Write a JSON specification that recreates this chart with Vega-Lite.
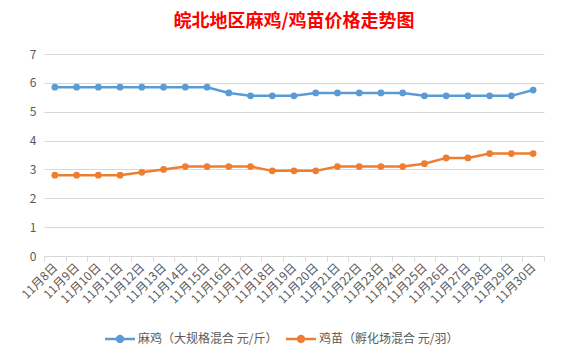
{
  "$schema": "https://vega.github.io/schema/vega-lite/v6.json",
  "width": 500,
  "height": 202,
  "autosize": {"type": "none"},
  "padding": {"left": 44, "top": 54, "right": 18, "bottom": 104},
  "background": "white",
  "title": {"text": "皖北地区麻鸡/鸡苗价格走势图", "color": "#FF0000", "fontSize": 18, "fontWeight": "bold", "font": "Noto Sans CJK SC", "anchor": "middle", "frame": "group", "offset": 17},
  "config": {"view": {"stroke": null}, "font": "Noto Sans CJK SC"},
  "data": {"values": [
    {"d": "11月8日", "s": "麻鸡（大规格混合 元/斤）", "v": 5.85},
    {"d": "11月9日", "s": "麻鸡（大规格混合 元/斤）", "v": 5.85},
    {"d": "11月10日", "s": "麻鸡（大规格混合 元/斤）", "v": 5.85},
    {"d": "11月11日", "s": "麻鸡（大规格混合 元/斤）", "v": 5.85},
    {"d": "11月12日", "s": "麻鸡（大规格混合 元/斤）", "v": 5.85},
    {"d": "11月13日", "s": "麻鸡（大规格混合 元/斤）", "v": 5.85},
    {"d": "11月14日", "s": "麻鸡（大规格混合 元/斤）", "v": 5.85},
    {"d": "11月15日", "s": "麻鸡（大规格混合 元/斤）", "v": 5.85},
    {"d": "11月16日", "s": "麻鸡（大规格混合 元/斤）", "v": 5.65},
    {"d": "11月17日", "s": "麻鸡（大规格混合 元/斤）", "v": 5.55},
    {"d": "11月18日", "s": "麻鸡（大规格混合 元/斤）", "v": 5.55},
    {"d": "11月19日", "s": "麻鸡（大规格混合 元/斤）", "v": 5.55},
    {"d": "11月20日", "s": "麻鸡（大规格混合 元/斤）", "v": 5.65},
    {"d": "11月21日", "s": "麻鸡（大规格混合 元/斤）", "v": 5.65},
    {"d": "11月22日", "s": "麻鸡（大规格混合 元/斤）", "v": 5.65},
    {"d": "11月23日", "s": "麻鸡（大规格混合 元/斤）", "v": 5.65},
    {"d": "11月24日", "s": "麻鸡（大规格混合 元/斤）", "v": 5.65},
    {"d": "11月25日", "s": "麻鸡（大规格混合 元/斤）", "v": 5.55},
    {"d": "11月26日", "s": "麻鸡（大规格混合 元/斤）", "v": 5.55},
    {"d": "11月27日", "s": "麻鸡（大规格混合 元/斤）", "v": 5.55},
    {"d": "11月28日", "s": "麻鸡（大规格混合 元/斤）", "v": 5.55},
    {"d": "11月29日", "s": "麻鸡（大规格混合 元/斤）", "v": 5.55},
    {"d": "11月30日", "s": "麻鸡（大规格混合 元/斤）", "v": 5.75},
    {"d": "11月8日", "s": "鸡苗（孵化场混合 元/羽）", "v": 2.8},
    {"d": "11月9日", "s": "鸡苗（孵化场混合 元/羽）", "v": 2.8},
    {"d": "11月10日", "s": "鸡苗（孵化场混合 元/羽）", "v": 2.8},
    {"d": "11月11日", "s": "鸡苗（孵化场混合 元/羽）", "v": 2.8},
    {"d": "11月12日", "s": "鸡苗（孵化场混合 元/羽）", "v": 2.9},
    {"d": "11月13日", "s": "鸡苗（孵化场混合 元/羽）", "v": 3.0},
    {"d": "11月14日", "s": "鸡苗（孵化场混合 元/羽）", "v": 3.1},
    {"d": "11月15日", "s": "鸡苗（孵化场混合 元/羽）", "v": 3.1},
    {"d": "11月16日", "s": "鸡苗（孵化场混合 元/羽）", "v": 3.1},
    {"d": "11月17日", "s": "鸡苗（孵化场混合 元/羽）", "v": 3.1},
    {"d": "11月18日", "s": "鸡苗（孵化场混合 元/羽）", "v": 2.95},
    {"d": "11月19日", "s": "鸡苗（孵化场混合 元/羽）", "v": 2.95},
    {"d": "11月20日", "s": "鸡苗（孵化场混合 元/羽）", "v": 2.95},
    {"d": "11月21日", "s": "鸡苗（孵化场混合 元/羽）", "v": 3.1},
    {"d": "11月22日", "s": "鸡苗（孵化场混合 元/羽）", "v": 3.1},
    {"d": "11月23日", "s": "鸡苗（孵化场混合 元/羽）", "v": 3.1},
    {"d": "11月24日", "s": "鸡苗（孵化场混合 元/羽）", "v": 3.1},
    {"d": "11月25日", "s": "鸡苗（孵化场混合 元/羽）", "v": 3.2},
    {"d": "11月26日", "s": "鸡苗（孵化场混合 元/羽）", "v": 3.4},
    {"d": "11月27日", "s": "鸡苗（孵化场混合 元/羽）", "v": 3.4},
    {"d": "11月28日", "s": "鸡苗（孵化场混合 元/羽）", "v": 3.55},
    {"d": "11月29日", "s": "鸡苗（孵化场混合 元/羽）", "v": 3.55},
    {"d": "11月30日", "s": "鸡苗（孵化场混合 元/羽）", "v": 3.55}
  ]},
  "encoding": {
    "x": {"field": "d", "type": "ordinal", "sort": null,
      "scale": {"type": "band", "paddingInner": 0, "paddingOuter": 0},
      "axis": {"title": null, "labelAngle": -45, "labelAlign": "right", "labelBaseline": "middle", "labelFontSize": 12, "labelColor": "#595959", "labelPadding": 4, "domainColor": "#D9D9D9", "tickColor": "#D9D9D9", "tickBand": "extent", "tickSize": 5, "grid": false}},
    "y": {"field": "v", "type": "quantitative",
      "scale": {"domain": [0, 7], "nice": false},
      "axis": {"title": null, "values": [0,1,2,3,4,5,6,7], "labelOverlap": false, "domain": false, "ticks": false, "labelFontSize": 12, "labelColor": "#595959", "labelPadding": 8, "gridColor": "#D9D9D9", "gridWidth": 1}},
    "color": {"field": "s", "type": "nominal", "sort": null,
      "scale": {"range": ["#5B9BD5", "#ED7D31"]},
      "legend": {"title": null, "orient": "none", "legendX": 61, "legendY": 270, "direction": "horizontal", "columns": 2, "columnPadding": 8,
          "symbolType": "M-1,-0.08H1V0.08H-1Z M0.28,0 A0.28,0.28 0 1,1 -0.28,0 A0.28,0.28 0 1,1 0.28,0Z",
          "symbolSize": 900, "symbolStrokeWidth": 0, "labelFontSize": 12, "labelColor": "#595959", "labelOffset": 3}}
  },
  "layer": [
    {"mark": {"type": "line", "strokeWidth": 2.5}},
    {"mark": {"type": "point", "filled": true, "opacity": 1, "size": 45}}
  ]
}
